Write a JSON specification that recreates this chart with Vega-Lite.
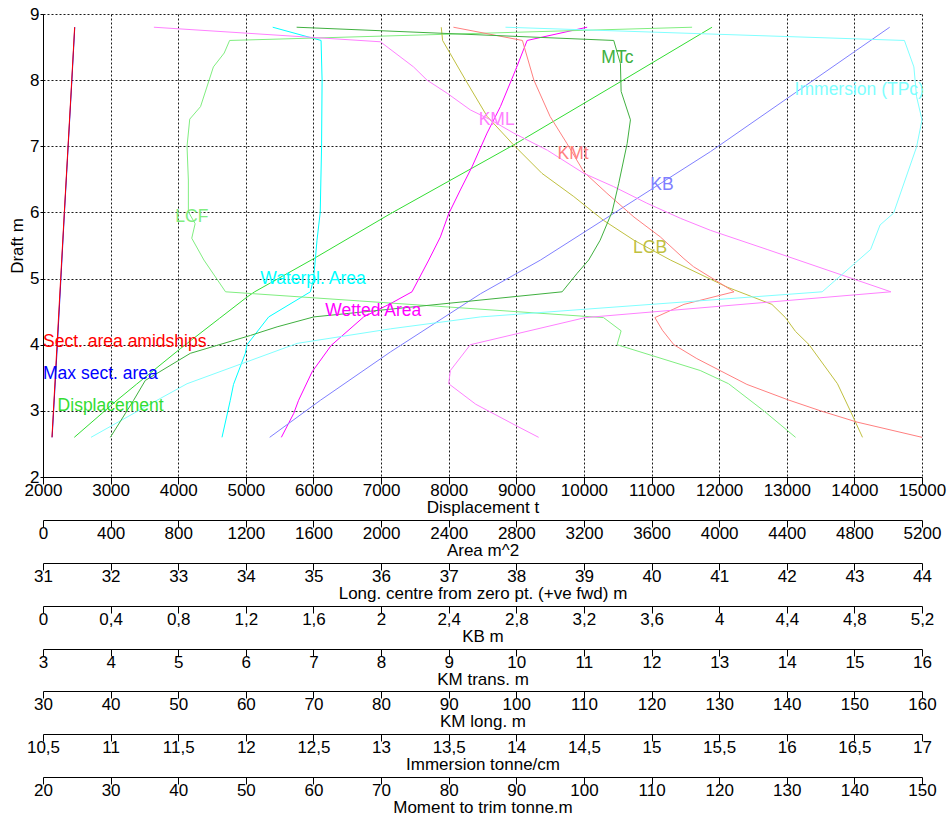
{
  "$schema": "https://vega.github.io/schema/vega-lite/v6.json",
  "width": 879,
  "height": 463,
  "autosize": {"type": "none"},
  "padding": {"left": 43, "top": 14, "right": 25, "bottom": 342},
  "background": "#ffffff",
  "config": {
    "view": {"stroke": null},
    "font": "Liberation Sans",
    "axis": {
      "labelFont": "Liberation Sans", "titleFont": "Liberation Sans",
      "labelFontSize": 17, "titleFontSize": 17, "titleFontWeight": "normal",
      "labelColor": "#000", "titleColor": "#000",
      "domainColor": "#000", "domainWidth": 1,
      "tickColor": "#000", "tickWidth": 1, "tickSize": 7,
      "labelPadding": -2, "titlePadding": 1,
      "labelOverlap": false, "labelFlush": false,
      "gridColor": "#000", "gridDash": [2, 2], "gridOpacity": 0.9, "gridWidth": 1
    },
    "axisY": {"tickSize": 3, "labelPadding": 1, "titlePadding": 3},
    "line": {"strokeWidth": 1}
  },
  "datasets": {
    "curves": [
      {"series": "Displacement", "draft": 2.6, "value": 2463},
      {"series": "Displacement", "draft": 3.16, "value": 3094},
      {"series": "Displacement", "draft": 3.4, "value": 3380},
      {"series": "Displacement", "draft": 3.94, "value": 4031},
      {"series": "Displacement", "draft": 4.4, "value": 4612},
      {"series": "Displacement", "draft": 4.72, "value": 5017},
      {"series": "Displacement", "draft": 4.8, "value": 5130},
      {"series": "Displacement", "draft": 5.3, "value": 6002},
      {"series": "Displacement", "draft": 5.98, "value": 7137},
      {"series": "Displacement", "draft": 7.02, "value": 8960},
      {"series": "Displacement", "draft": 8.0, "value": 10580},
      {"series": "Displacement", "draft": 8.8, "value": 11895},

      {"series": "Max sect. area", "draft": 2.6, "value": 54},
      {"series": "Max sect. area", "draft": 4.0, "value": 85},
      {"series": "Max sect. area", "draft": 6.0, "value": 127},
      {"series": "Max sect. area", "draft": 7.0, "value": 149},
      {"series": "Max sect. area", "draft": 8.0, "value": 171},
      {"series": "Max sect. area", "draft": 8.8, "value": 188},

      {"series": "Sect. area amidships", "draft": 2.6, "value": 53},
      {"series": "Sect. area amidships", "draft": 4.0, "value": 83},
      {"series": "Sect. area amidships", "draft": 6.0, "value": 126},
      {"series": "Sect. area amidships", "draft": 8.0, "value": 170},
      {"series": "Sect. area amidships", "draft": 8.8, "value": 187},

      {"series": "Waterpl. Area", "draft": 2.6, "value": 1059},
      {"series": "Waterpl. Area", "draft": 3.16, "value": 1108},
      {"series": "Waterpl. Area", "draft": 3.4, "value": 1127},
      {"series": "Waterpl. Area", "draft": 3.87, "value": 1197},
      {"series": "Waterpl. Area", "draft": 4.0, "value": 1207},
      {"series": "Waterpl. Area", "draft": 4.42, "value": 1335},
      {"series": "Waterpl. Area", "draft": 4.8, "value": 1582},
      {"series": "Waterpl. Area", "draft": 5.0, "value": 1601},
      {"series": "Waterpl. Area", "draft": 5.58, "value": 1621},
      {"series": "Waterpl. Area", "draft": 6.0, "value": 1640},
      {"series": "Waterpl. Area", "draft": 7.0, "value": 1648},
      {"series": "Waterpl. Area", "draft": 8.0, "value": 1651},
      {"series": "Waterpl. Area", "draft": 8.6, "value": 1645},
      {"series": "Waterpl. Area", "draft": 8.8, "value": 1359},

      {"series": "Wetted Area", "draft": 2.6, "value": 1410},
      {"series": "Wetted Area", "draft": 2.96, "value": 1483},
      {"series": "Wetted Area", "draft": 3.16, "value": 1512},
      {"series": "Wetted Area", "draft": 3.59, "value": 1592},
      {"series": "Wetted Area", "draft": 3.99, "value": 1705},
      {"series": "Wetted Area", "draft": 4.42, "value": 1897},
      {"series": "Wetted Area", "draft": 4.62, "value": 2055},
      {"series": "Wetted Area", "draft": 4.8, "value": 2183},
      {"series": "Wetted Area", "draft": 5.28, "value": 2282},
      {"series": "Wetted Area", "draft": 5.63, "value": 2351},
      {"series": "Wetted Area", "draft": 5.98, "value": 2400},
      {"series": "Wetted Area", "draft": 6.34, "value": 2469},
      {"series": "Wetted Area", "draft": 6.69, "value": 2538},
      {"series": "Wetted Area", "draft": 7.2, "value": 2627},
      {"series": "Wetted Area", "draft": 7.6, "value": 2706},
      {"series": "Wetted Area", "draft": 8.15, "value": 2795},
      {"series": "Wetted Area", "draft": 8.6, "value": 2864},
      {"series": "Wetted Area", "draft": 8.8, "value": 3219},

      {"series": "LCF", "draft": 2.6, "value": 42.13},
      {"series": "LCF", "draft": 3.0, "value": 41.66},
      {"series": "LCF", "draft": 3.41, "value": 41.14},
      {"series": "LCF", "draft": 3.61, "value": 40.72},
      {"series": "LCF", "draft": 4.0, "value": 39.49},
      {"series": "LCF", "draft": 4.21, "value": 39.55},
      {"series": "LCF", "draft": 4.41, "value": 39.29},
      {"series": "LCF", "draft": 4.8, "value": 33.70},
      {"series": "LCF", "draft": 5.28, "value": 33.38},
      {"series": "LCF", "draft": 5.61, "value": 33.20},
      {"series": "LCF", "draft": 5.83, "value": 33.25},
      {"series": "LCF", "draft": 6.01, "value": 33.15},
      {"series": "LCF", "draft": 6.49, "value": 33.15},
      {"series": "LCF", "draft": 7.0, "value": 33.13},
      {"series": "LCF", "draft": 7.41, "value": 33.17},
      {"series": "LCF", "draft": 7.6, "value": 33.33},
      {"series": "LCF", "draft": 8.2, "value": 33.52},
      {"series": "LCF", "draft": 8.41, "value": 33.68},
      {"series": "LCF", "draft": 8.6, "value": 33.76},
      {"series": "LCF", "draft": 8.8, "value": 40.60},

      {"series": "LCB", "draft": 2.6, "value": 43.12},
      {"series": "LCB", "draft": 3.0, "value": 42.94},
      {"series": "LCB", "draft": 3.41, "value": 42.75},
      {"series": "LCB", "draft": 4.0, "value": 42.33},
      {"series": "LCB", "draft": 4.2, "value": 42.13},
      {"series": "LCB", "draft": 4.41, "value": 41.98},
      {"series": "LCB", "draft": 4.61, "value": 41.78},
      {"series": "LCB", "draft": 4.87, "value": 41.12},
      {"series": "LCB", "draft": 5.28, "value": 40.28},
      {"series": "LCB", "draft": 5.58, "value": 39.74},
      {"series": "LCB", "draft": 5.88, "value": 39.29},
      {"series": "LCB", "draft": 6.24, "value": 38.85},
      {"series": "LCB", "draft": 6.59, "value": 38.38},
      {"series": "LCB", "draft": 7.02, "value": 37.96},
      {"series": "LCB", "draft": 7.45, "value": 37.57},
      {"series": "LCB", "draft": 8.0, "value": 37.25},
      {"series": "LCB", "draft": 8.6, "value": 36.91},
      {"series": "LCB", "draft": 8.8, "value": 36.89},

      {"series": "KB", "draft": 2.6, "value": 1.341},
      {"series": "KB", "draft": 3.16, "value": 1.641},
      {"series": "KB", "draft": 3.89, "value": 2.055},
      {"series": "KB", "draft": 4.77, "value": 2.588},
      {"series": "KB", "draft": 5.28, "value": 2.943},
      {"series": "KB", "draft": 6.0, "value": 3.385},
      {"series": "KB", "draft": 6.92, "value": 3.949},
      {"series": "KB", "draft": 8.8, "value": 5.009},

      {"series": "KMt", "draft": 2.6, "value": 16.0},
      {"series": "KMt", "draft": 2.83, "value": 15.04},
      {"series": "KMt", "draft": 3.0, "value": 14.5},
      {"series": "KMt", "draft": 3.17, "value": 14.01},
      {"series": "KMt", "draft": 3.4, "value": 13.41},
      {"series": "KMt", "draft": 3.79, "value": 12.67},
      {"series": "KMt", "draft": 4.0, "value": 12.33},
      {"series": "KMt", "draft": 4.22, "value": 12.16},
      {"series": "KMt", "draft": 4.41, "value": 12.05},
      {"series": "KMt", "draft": 4.61, "value": 12.48},
      {"series": "KMt", "draft": 4.8, "value": 13.22},
      {"series": "KMt", "draft": 5.18, "value": 12.62},
      {"series": "KMt", "draft": 5.3, "value": 12.48},
      {"series": "KMt", "draft": 5.63, "value": 12.13},
      {"series": "KMt", "draft": 5.93, "value": 11.74},
      {"series": "KMt", "draft": 6.29, "value": 11.34},
      {"series": "KMt", "draft": 6.61, "value": 11.0},
      {"series": "KMt", "draft": 7.04, "value": 10.75},
      {"series": "KMt", "draft": 7.45, "value": 10.5},
      {"series": "KMt", "draft": 8.0, "value": 10.26},
      {"series": "KMt", "draft": 8.6, "value": 10.09},
      {"series": "KMt", "draft": 8.8, "value": 9.07},

      {"series": "KML", "draft": 2.6, "value": 103.3},
      {"series": "KML", "draft": 2.78, "value": 99.9},
      {"series": "KML", "draft": 3.1, "value": 94.0},
      {"series": "KML", "draft": 3.41, "value": 90.0},
      {"series": "KML", "draft": 3.61, "value": 90.25},
      {"series": "KML", "draft": 4.0, "value": 93.2},
      {"series": "KML", "draft": 4.41, "value": 110.2},
      {"series": "KML", "draft": 4.8, "value": 155.4},
      {"series": "KML", "draft": 5.44, "value": 137.1},
      {"series": "KML", "draft": 5.73, "value": 128.7},
      {"series": "KML", "draft": 5.91, "value": 124.3},
      {"series": "KML", "draft": 6.14, "value": 119.3},
      {"series": "KML", "draft": 6.39, "value": 114.4},
      {"series": "KML", "draft": 6.59, "value": 110.0},
      {"series": "KML", "draft": 6.94, "value": 104.6},
      {"series": "KML", "draft": 7.2, "value": 99.6},
      {"series": "KML", "draft": 7.4, "value": 96.2},
      {"series": "KML", "draft": 7.55, "value": 93.2},
      {"series": "KML", "draft": 7.8, "value": 89.8},
      {"series": "KML", "draft": 8.0, "value": 86.8},
      {"series": "KML", "draft": 8.2, "value": 84.8},
      {"series": "KML", "draft": 8.58, "value": 79.9},
      {"series": "KML", "draft": 8.8, "value": 46.4},

      {"series": "Immersion (TPc)", "draft": 2.6, "value": 10.855},
      {"series": "Immersion (TPc)", "draft": 3.16, "value": 11.343},
      {"series": "Immersion (TPc)", "draft": 3.41, "value": 11.565},
      {"series": "Immersion (TPc)", "draft": 4.02, "value": 12.379},
      {"series": "Immersion (TPc)", "draft": 4.24, "value": 13.069},
      {"series": "Immersion (TPc)", "draft": 4.42, "value": 13.734},
      {"series": "Immersion (TPc)", "draft": 4.8, "value": 16.262},
      {"series": "Immersion (TPc)", "draft": 5.44, "value": 16.62},
      {"series": "Immersion (TPc)", "draft": 5.81, "value": 16.69},
      {"series": "Immersion (TPc)", "draft": 5.99, "value": 16.79},
      {"series": "Immersion (TPc)", "draft": 6.99, "value": 16.96},
      {"series": "Immersion (TPc)", "draft": 7.4, "value": 17.0},
      {"series": "Immersion (TPc)", "draft": 7.75, "value": 16.96},
      {"series": "Immersion (TPc)", "draft": 8.2, "value": 16.94},
      {"series": "Immersion (TPc)", "draft": 8.6, "value": 16.87},
      {"series": "Immersion (TPc)", "draft": 8.8, "value": 13.92},

      {"series": "MTc", "draft": 2.6, "value": 29.96},
      {"series": "MTc", "draft": 3.16, "value": 33.4},
      {"series": "MTc", "draft": 3.46, "value": 35.13},
      {"series": "MTc", "draft": 3.87, "value": 41.79},
      {"series": "MTc", "draft": 4.14, "value": 50.67},
      {"series": "MTc", "draft": 4.27, "value": 54.62},
      {"series": "MTc", "draft": 4.42, "value": 60.03},
      {"series": "MTc", "draft": 4.8, "value": 96.78},
      {"series": "MTc", "draft": 5.08, "value": 99.0},
      {"series": "MTc", "draft": 5.28, "value": 100.7},
      {"series": "MTc", "draft": 5.58, "value": 102.4},
      {"series": "MTc", "draft": 6.01, "value": 104.17},
      {"series": "MTc", "draft": 6.44, "value": 105.15},
      {"series": "MTc", "draft": 7.04, "value": 106.39},
      {"series": "MTc", "draft": 7.4, "value": 106.88},
      {"series": "MTc", "draft": 7.83, "value": 105.5},
      {"series": "MTc", "draft": 8.25, "value": 105.4},
      {"series": "MTc", "draft": 8.6, "value": 104.41},
      {"series": "MTc", "draft": 8.8, "value": 57.51}
    ],
    "labels": [
      {"series": "Sect. area amidships", "displacement": 2000, "draft": 4.04},
      {"series": "Max sect. area", "displacement": 2000, "draft": 3.55},
      {"series": "Displacement", "displacement": 2216, "draft": 3.08},
      {"series": "Waterpl. Area", "displacement": 5214, "draft": 4.99},
      {"series": "Wetted Area", "displacement": 6175, "draft": 4.51},
      {"series": "LCF", "displacement": 3957, "draft": 5.93},
      {"series": "MTc", "displacement": 10257, "draft": 8.33},
      {"series": "Immersion (TPc)", "displacement": 13116, "draft": 7.85},
      {"series": "KML", "displacement": 8443, "draft": 7.40},
      {"series": "KMt", "displacement": 9611, "draft": 6.89},
      {"series": "KB", "displacement": 10982, "draft": 6.41},
      {"series": "LCB", "displacement": 10726, "draft": 5.46}
    ]
  },
  "data": {"name": "curves"},
  "layer": [
    {
      "transform": [{"filter": "datum.series === 'Displacement'"}],
      "mark": {"type": "line", "strokeWidth": 1},
      "encoding": {
        "x": {"field": "value", "type": "quantitative",
          "scale": {"domain": [2000, 15000], "nice": false, "zero": false},
          "axis": {"orient": "bottom", "title": "Displacement  t", "grid": true,
            "values": [2000, 3000, 4000, 5000, 6000, 7000, 8000, 9000, 10000, 11000, 12000, 13000, 14000, 15000],
            "labelExpr": "replace(toString(datum.value), '.', ',')"}},
        "y": {"field": "draft", "type": "quantitative",
          "scale": {"domain": [2, 9], "nice": false, "zero": false},
          "axis": {"title": "Draft  m", "grid": true, "values": [2, 3, 4, 5, 6, 7, 8, 9]}},
        "color": {"field": "series", "type": "nominal", "legend": null,
          "scale": {"domain": ["Displacement", "Max sect. area", "Sect. area amidships", "Waterpl. Area", "Wetted Area", "LCF", "LCB", "KB", "KMt", "KML", "Immersion (TPc)", "MTc"],
            "range": ["#33dd33", "#0000ff", "#ff0000", "#00ffff", "#ff00ff", "#80ee80", "#c0c040", "#8080ff", "#ff8080", "#ff80ff", "#80ffff", "#40b040"]}},
        "order": {"field": "draft", "type": "quantitative"}
      }
    },
    {
      "transform": [{"filter": {"field": "series", "oneOf": ["Max sect. area", "Sect. area amidships", "Waterpl. Area", "Wetted Area"]}}],
      "mark": {"type": "line", "strokeWidth": 1},
      "encoding": {
        "x": {"field": "value", "type": "quantitative",
          "scale": {"domain": [0, 5200], "nice": false, "zero": false},
          "axis": {"orient": "bottom", "offset": 43, "title": "Area  m^2", "grid": false,
            "values": [0, 400, 800, 1200, 1600, 2000, 2400, 2800, 3200, 3600, 4000, 4400, 4800, 5200],
            "labelExpr": "replace(toString(datum.value), '.', ',')"}},
        "y": {"field": "draft", "type": "quantitative", "scale": {"domain": [2, 9], "nice": false, "zero": false},
          "axis": {"title": "Draft  m", "grid": true, "values": [2, 3, 4, 5, 6, 7, 8, 9]}},
        "color": {"field": "series", "type": "nominal", "legend": null,
          "scale": {"domain": ["Displacement", "Max sect. area", "Sect. area amidships", "Waterpl. Area", "Wetted Area", "LCF", "LCB", "KB", "KMt", "KML", "Immersion (TPc)", "MTc"],
            "range": ["#33dd33", "#0000ff", "#ff0000", "#00ffff", "#ff00ff", "#80ee80", "#c0c040", "#8080ff", "#ff8080", "#ff80ff", "#80ffff", "#40b040"]}},
        "order": {"field": "draft", "type": "quantitative"}
      }
    },
    {
      "transform": [{"filter": {"field": "series", "oneOf": ["LCF", "LCB"]}}],
      "mark": {"type": "line", "strokeWidth": 1},
      "encoding": {
        "x": {"field": "value", "type": "quantitative",
          "scale": {"domain": [31, 44], "nice": false, "zero": false},
          "axis": {"orient": "bottom", "offset": 86, "title": "Long. centre  from zero pt. (+ve fwd) m", "grid": false,
            "values": [31, 32, 33, 34, 35, 36, 37, 38, 39, 40, 41, 42, 43, 44],
            "labelExpr": "replace(toString(datum.value), '.', ',')"}},
        "y": {"field": "draft", "type": "quantitative", "scale": {"domain": [2, 9], "nice": false, "zero": false},
          "axis": {"title": "Draft  m", "grid": true, "values": [2, 3, 4, 5, 6, 7, 8, 9]}},
        "color": {"field": "series", "type": "nominal", "legend": null,
          "scale": {"domain": ["Displacement", "Max sect. area", "Sect. area amidships", "Waterpl. Area", "Wetted Area", "LCF", "LCB", "KB", "KMt", "KML", "Immersion (TPc)", "MTc"],
            "range": ["#33dd33", "#0000ff", "#ff0000", "#00ffff", "#ff00ff", "#80ee80", "#c0c040", "#8080ff", "#ff8080", "#ff80ff", "#80ffff", "#40b040"]}},
        "order": {"field": "draft", "type": "quantitative"}
      }
    },
    {
      "transform": [{"filter": "datum.series === 'KB'"}],
      "mark": {"type": "line", "strokeWidth": 1},
      "encoding": {
        "x": {"field": "value", "type": "quantitative",
          "scale": {"domain": [0, 5.2], "nice": false, "zero": false},
          "axis": {"orient": "bottom", "offset": 129, "title": "KB  m", "grid": false,
            "values": [0, 0.4, 0.8, 1.2, 1.6, 2, 2.4, 2.8, 3.2, 3.6, 4, 4.4, 4.8, 5.2],
            "labelExpr": "replace(toString(datum.value), '.', ',')"}},
        "y": {"field": "draft", "type": "quantitative", "scale": {"domain": [2, 9], "nice": false, "zero": false},
          "axis": {"title": "Draft  m", "grid": true, "values": [2, 3, 4, 5, 6, 7, 8, 9]}},
        "color": {"field": "series", "type": "nominal", "legend": null,
          "scale": {"domain": ["Displacement", "Max sect. area", "Sect. area amidships", "Waterpl. Area", "Wetted Area", "LCF", "LCB", "KB", "KMt", "KML", "Immersion (TPc)", "MTc"],
            "range": ["#33dd33", "#0000ff", "#ff0000", "#00ffff", "#ff00ff", "#80ee80", "#c0c040", "#8080ff", "#ff8080", "#ff80ff", "#80ffff", "#40b040"]}},
        "order": {"field": "draft", "type": "quantitative"}
      }
    },
    {
      "transform": [{"filter": "datum.series === 'KMt'"}],
      "mark": {"type": "line", "strokeWidth": 1},
      "encoding": {
        "x": {"field": "value", "type": "quantitative",
          "scale": {"domain": [3, 16], "nice": false, "zero": false},
          "axis": {"orient": "bottom", "offset": 172, "title": "KM trans.  m", "grid": false,
            "values": [3, 4, 5, 6, 7, 8, 9, 10, 11, 12, 13, 14, 15, 16],
            "labelExpr": "replace(toString(datum.value), '.', ',')"}},
        "y": {"field": "draft", "type": "quantitative", "scale": {"domain": [2, 9], "nice": false, "zero": false},
          "axis": {"title": "Draft  m", "grid": true, "values": [2, 3, 4, 5, 6, 7, 8, 9]}},
        "color": {"field": "series", "type": "nominal", "legend": null,
          "scale": {"domain": ["Displacement", "Max sect. area", "Sect. area amidships", "Waterpl. Area", "Wetted Area", "LCF", "LCB", "KB", "KMt", "KML", "Immersion (TPc)", "MTc"],
            "range": ["#33dd33", "#0000ff", "#ff0000", "#00ffff", "#ff00ff", "#80ee80", "#c0c040", "#8080ff", "#ff8080", "#ff80ff", "#80ffff", "#40b040"]}},
        "order": {"field": "draft", "type": "quantitative"}
      }
    },
    {
      "transform": [{"filter": "datum.series === 'KML'"}],
      "mark": {"type": "line", "strokeWidth": 1},
      "encoding": {
        "x": {"field": "value", "type": "quantitative",
          "scale": {"domain": [30, 160], "nice": false, "zero": false},
          "axis": {"orient": "bottom", "offset": 214, "title": "KM long.  m", "grid": false,
            "values": [30, 40, 50, 60, 70, 80, 90, 100, 110, 120, 130, 140, 150, 160],
            "labelExpr": "replace(toString(datum.value), '.', ',')"}},
        "y": {"field": "draft", "type": "quantitative", "scale": {"domain": [2, 9], "nice": false, "zero": false},
          "axis": {"title": "Draft  m", "grid": true, "values": [2, 3, 4, 5, 6, 7, 8, 9]}},
        "color": {"field": "series", "type": "nominal", "legend": null,
          "scale": {"domain": ["Displacement", "Max sect. area", "Sect. area amidships", "Waterpl. Area", "Wetted Area", "LCF", "LCB", "KB", "KMt", "KML", "Immersion (TPc)", "MTc"],
            "range": ["#33dd33", "#0000ff", "#ff0000", "#00ffff", "#ff00ff", "#80ee80", "#c0c040", "#8080ff", "#ff8080", "#ff80ff", "#80ffff", "#40b040"]}},
        "order": {"field": "draft", "type": "quantitative"}
      }
    },
    {
      "transform": [{"filter": "datum.series === 'Immersion (TPc)'"}],
      "mark": {"type": "line", "strokeWidth": 1},
      "encoding": {
        "x": {"field": "value", "type": "quantitative",
          "scale": {"domain": [10.5, 17], "nice": false, "zero": false},
          "axis": {"orient": "bottom", "offset": 257, "title": "Immersion  tonne/cm", "grid": false,
            "values": [10.5, 11, 11.5, 12, 12.5, 13, 13.5, 14, 14.5, 15, 15.5, 16, 16.5, 17],
            "labelExpr": "replace(toString(datum.value), '.', ',')"}},
        "y": {"field": "draft", "type": "quantitative", "scale": {"domain": [2, 9], "nice": false, "zero": false},
          "axis": {"title": "Draft  m", "grid": true, "values": [2, 3, 4, 5, 6, 7, 8, 9]}},
        "color": {"field": "series", "type": "nominal", "legend": null,
          "scale": {"domain": ["Displacement", "Max sect. area", "Sect. area amidships", "Waterpl. Area", "Wetted Area", "LCF", "LCB", "KB", "KMt", "KML", "Immersion (TPc)", "MTc"],
            "range": ["#33dd33", "#0000ff", "#ff0000", "#00ffff", "#ff00ff", "#80ee80", "#c0c040", "#8080ff", "#ff8080", "#ff80ff", "#80ffff", "#40b040"]}},
        "order": {"field": "draft", "type": "quantitative"}
      }
    },
    {
      "transform": [{"filter": "datum.series === 'MTc'"}],
      "mark": {"type": "line", "strokeWidth": 1},
      "encoding": {
        "x": {"field": "value", "type": "quantitative",
          "scale": {"domain": [20, 150], "nice": false, "zero": false},
          "axis": {"orient": "bottom", "offset": 300, "title": "Moment to trim  tonne.m", "grid": false,
            "values": [20, 30, 40, 50, 60, 70, 80, 90, 100, 110, 120, 130, 140, 150],
            "labelExpr": "replace(toString(datum.value), '.', ',')"}},
        "y": {"field": "draft", "type": "quantitative", "scale": {"domain": [2, 9], "nice": false, "zero": false},
          "axis": {"title": "Draft  m", "grid": true, "values": [2, 3, 4, 5, 6, 7, 8, 9]}},
        "color": {"field": "series", "type": "nominal", "legend": null,
          "scale": {"domain": ["Displacement", "Max sect. area", "Sect. area amidships", "Waterpl. Area", "Wetted Area", "LCF", "LCB", "KB", "KMt", "KML", "Immersion (TPc)", "MTc"],
            "range": ["#33dd33", "#0000ff", "#ff0000", "#00ffff", "#ff00ff", "#80ee80", "#c0c040", "#8080ff", "#ff8080", "#ff80ff", "#80ffff", "#40b040"]}},
        "order": {"field": "draft", "type": "quantitative"}
      }
    },
    {
      "data": {"name": "labels"},
      "mark": {"type": "text", "align": "left", "baseline": "middle", "font": "Liberation Sans", "fontSize": 17.5},
      "encoding": {
        "x": {"field": "displacement", "type": "quantitative", "scale": {"domain": [2000, 15000], "nice": false, "zero": false}, "axis": null},
        "y": {"field": "draft", "type": "quantitative", "scale": {"domain": [2, 9], "nice": false, "zero": false},
          "axis": {"title": "Draft  m", "grid": true, "values": [2, 3, 4, 5, 6, 7, 8, 9]}},
        "text": {"field": "series", "type": "nominal"},
        "color": {"field": "series", "type": "nominal", "legend": null,
          "scale": {"domain": ["Displacement", "Max sect. area", "Sect. area amidships", "Waterpl. Area", "Wetted Area", "LCF", "LCB", "KB", "KMt", "KML", "Immersion (TPc)", "MTc"],
            "range": ["#33dd33", "#0000ff", "#ff0000", "#00ffff", "#ff00ff", "#80ee80", "#c0c040", "#8080ff", "#ff8080", "#ff80ff", "#80ffff", "#40b040"]}}
      }
    }
  ],
  "resolve": {"scale": {"x": "independent", "y": "shared"}, "axis": {"x": "independent", "y": "shared"}}
}
